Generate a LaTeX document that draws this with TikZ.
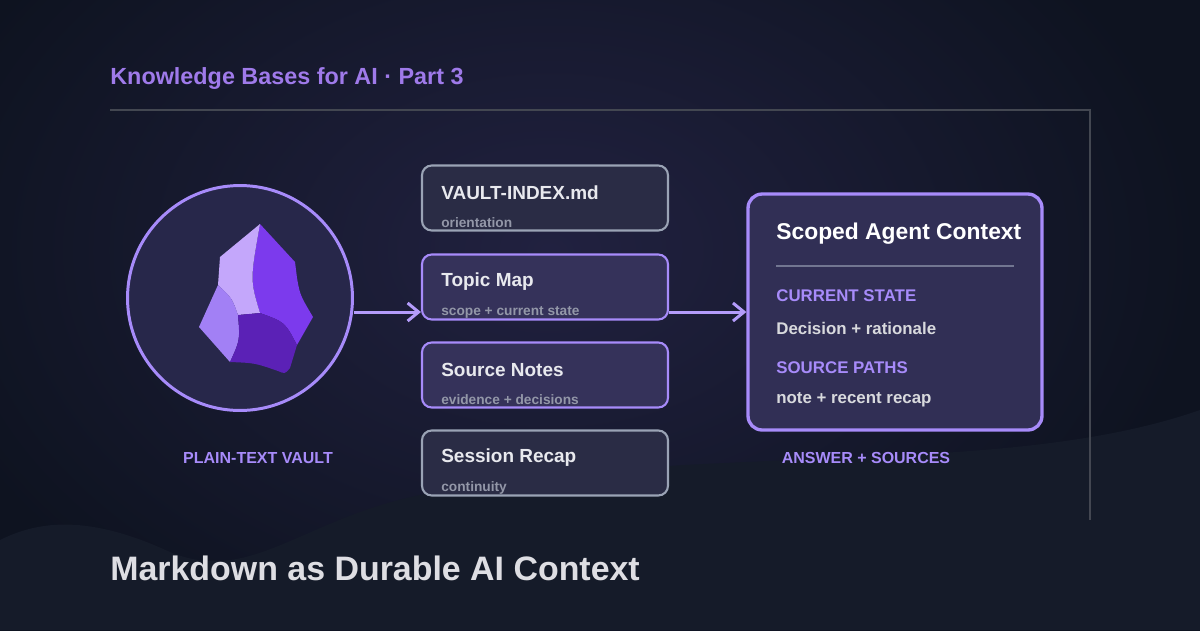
\documentclass[tikz,border=0pt]{standalone}
\usepackage{fontspec}
\setmainfont{Liberation Sans}
\usepackage{xcolor}
\usetikzlibrary{arrows.meta, positioning, calc}
\definecolor{bgdark}{HTML}{0E1320}
\definecolor{bgglow}{HTML}{212140}
\definecolor{wavecol}{HTML}{151B29}
\definecolor{accent}{HTML}{A78BFA}
\definecolor{headcol}{HTML}{9F7AEA}
\definecolor{greyline}{HTML}{9AA3B5}
\definecolor{boxfill}{HTML}{2A2C45}
\definecolor{boxhot}{HTML}{35325A}
\definecolor{circfill}{HTML}{27274A}
\definecolor{subtext}{HTML}{9397A8}
\definecolor{maintext}{HTML}{E8E9EE}
\definecolor{gemA}{HTML}{C4A7FB}
\definecolor{gemB}{HTML}{7C3AED}
\definecolor{gemC}{HTML}{5B21B6}
\definecolor{gemD}{HTML}{A280F5}
\tikzset{
  notebox/.style={rectangle, draw=greyline, line width=1.2pt, fill=boxfill, rounded corners=5.5pt, minimum width=4.92cm, minimum height=1.3cm, inner sep=0pt},
  hotbox/.style={notebox, draw=accent, fill=boxhot},
  boxtitle/.style={anchor=west, text=maintext, font=\fontsize{10.8}{12}\selectfont\bfseries, inner sep=0pt},
  boxsub/.style={anchor=west, text=subtext, font=\fontsize{7.8}{9}\selectfont\bfseries, inner sep=0pt},
  caplabel/.style={text=accent, font=\fontsize{9.1}{10}\selectfont\bfseries, inner sep=0pt},
  ctxtext/.style={boxtitle, font=\fontsize{9.6}{11}\selectfont\bfseries},
  arr/.style={-{Straight Barb[length=2.2mm, width=3.6mm]}, line width=1.7pt, draw=accent!85!white},
}
\begin{document}
\begin{tikzpicture}[x=0.02cm, y=-0.02cm]
  % background
  \useasboundingbox (0,0) rectangle (1200,630);
  \fill[bgdark] (0,0) rectangle (1200,630);
  \fill[inner color=bgglow, outer color=bgdark] (-100,-200) rectangle (1200,700);
  \fill[wavecol] (0,540) .. controls (40,520) and (90,515) .. (170,552)
    .. controls (250,585) and (300,520) .. (420,495)
    .. controls (700,440) and (1000,480) .. (1200,410) -- (1200,630) -- (0,630) -- cycle;
  \draw[white!22!bgdark, line width=0.8pt] (110,110) -- (1090,110) -- (1090,520);

  % header and title
  \node[anchor=base west, text=headcol, font=\fontsize{13.3}{15}\selectfont\bfseries, inner sep=0pt] (head) at (110,84) {Knowledge Bases for AI · Part 3};
  \node[anchor=base west, text=maintext!90!gray, font=\fontsize{19.3}{22}\selectfont\bfseries, inner sep=0pt] (title) at (110,580) {Markdown as Durable AI Context};

  % vault circle with gem
  \node[circle, draw=accent, line width=1.7pt, fill=circfill, minimum size=4.5cm] (vault) at (240,298) {};
  \fill[gemB] (260,224) -- (295,262) -- (297,278) .. controls (300,295) .. (313,317) -- (297,345)
    .. controls (285,322) .. (260,313) .. controls (250,280) .. (260,224) -- cycle;
  \fill[gemA] (260,224) .. controls (250,280) .. (260,313) -- (238,315)
    .. controls (232,298) .. (218,285) -- (220,257) -- cycle;
  \fill[gemD] (218,285) .. controls (232,298) .. (238,315) .. controls (240,340) .. (230,362)
    -- (199,327) -- cycle;
  \fill[gemC] (238,315) -- (260,313) .. controls (285,322) .. (297,345) -- (290,368)
    .. controls (285,374) .. (278,371) .. controls (255,363) .. (230,362)
    .. controls (240,340) .. (238,315) -- cycle;
  \node[caplabel] (vaultlbl) at (258,458) {PLAIN-TEXT VAULT};

  % note boxes
  \node[notebox] (index) at (545,198) {};
  \node[hotbox] (topic) at (545,287) {};
  \node[hotbox] (source) at (545,375) {};
  \node[notebox] (recap) at (545,463) {};
  \foreach \n/\t/\s in {index/VAULT-INDEX.md/orientation, topic/Topic Map/scope + current state,
      source/Source Notes/evidence + decisions, recap/Session Recap/continuity}{
    \node[boxtitle] at ($(\n.west)+(20,-5)$) {\t};
    \node[boxsub] at ($(\n.west)+(20,25)$) {\s};
  }

  % context box
  \node[rectangle, draw=accent, line width=1.9pt, fill=boxhot!80!bgglow, rounded corners=8pt, minimum width=5.88cm, minimum height=4.72cm] (ctx) at (895,312) {};
  \node[boxtitle, font=\fontsize{13}{15}\selectfont\bfseries, text=white] (ctxhead) at (776,234) {Scoped Agent Context};
  \draw[greyline!60!boxhot, line width=0.8pt] (776,266) -- (1014,266);
  \node[ctxtext, text=accent] (cur) at (776,296) {CURRENT STATE};
  \node[ctxtext, text=maintext!85!gray] (curval) at (776,328) {Decision + rationale};
  \node[ctxtext, text=accent] (src) at (776,368) {SOURCE PATHS};
  \node[ctxtext, text=maintext!85!gray] (srcval) at (776,400) {note + recent recap};
  \node[caplabel] (ctxlbl) at (866,458) {ANSWER + SOURCES};

  % arrows
  \draw[arr] (vault.east |- 0,312) -- (topic.west |- 0,312);
  \draw[arr] (topic.east |- 0,312) -- (ctx.west |- 0,312);
\end{tikzpicture}
\end{document}
